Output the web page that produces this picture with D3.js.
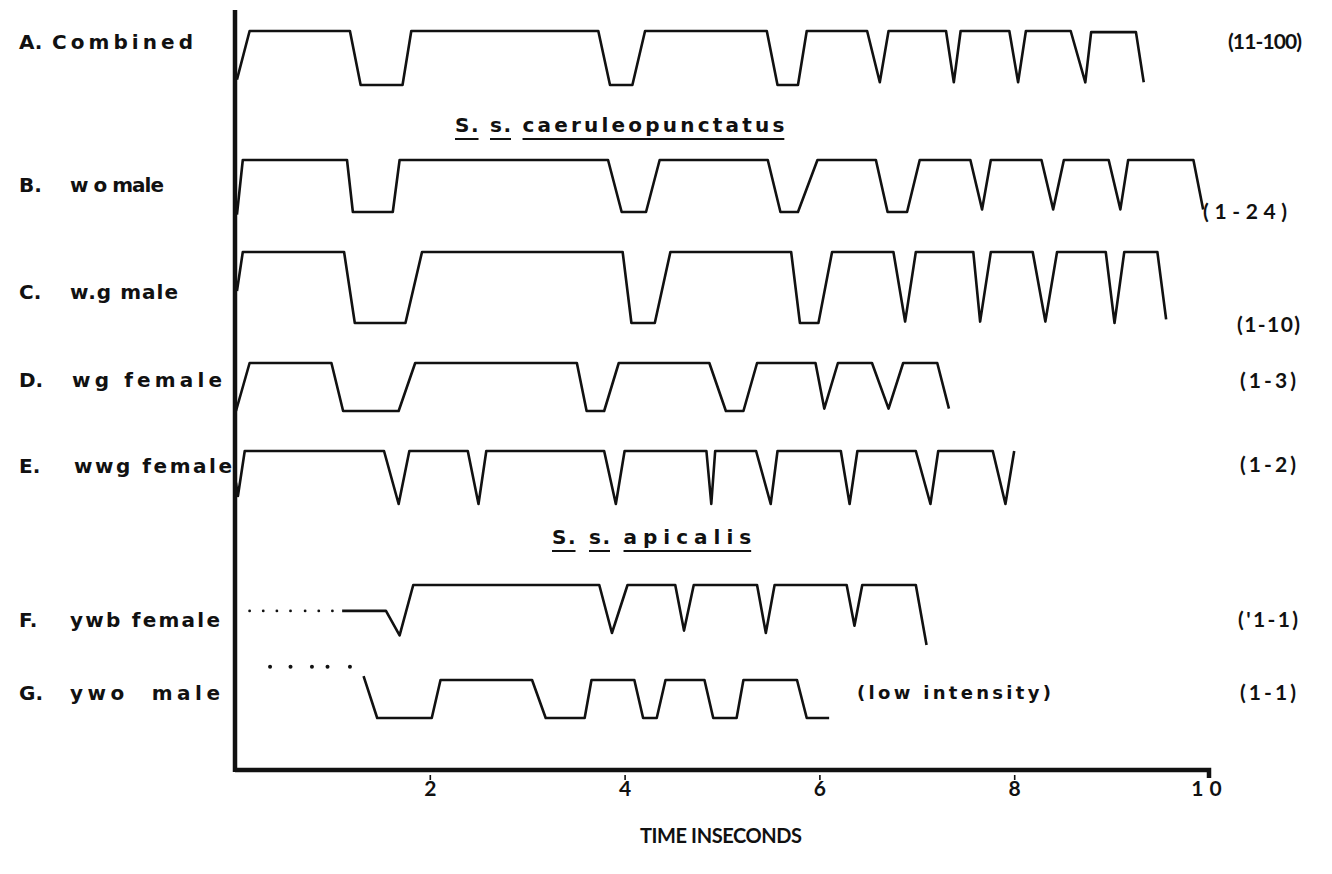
<!DOCTYPE html>
<html><head><meta charset="utf-8">
<script src="https://cdn.jsdelivr.net/npm/d3@7"></script>
<style>
body{margin:0;background:#fff;}
svg{display:block;}
text{fill:#111;font-weight:700;white-space:pre;}
.lbl{font-family:"DejaVu Sans",sans-serif;}
.num{font-family:Lato,"DejaVu Sans",sans-serif;}
</style></head><body>
<svg id="chart" width="1332" height="874"></svg>
<script>
// Call sequences: each trace is a list of [seconds, level]; level 1 = top of the sweep, 0 = bottom
const rowLetters = ["A.", "B.", "C.", "D.", "E.", "F.", "G."];
const rowNames = ["Combined", "w o male", "w.g male", "wg female", "wwg female", "ywb female", "ywo  male"];
const rowCounts = ["(11-100)", "(1-24)", "(1-10)", "(1-3)", "(1-2)", "('1-1)", "(1-1)"];

const traceA = [[0.02,0.1],[0.15,1],[1.18,1],[1.29,0],[1.72,0],[1.81,1],[3.73,1],[3.85,0],[4.08,0],[4.21,1],
  [5.46,1],[5.57,0],[5.78,0],[5.87,1],[6.49,1],[6.62,0.05],[6.71,1],[7.30,1],[7.38,0.05],[7.45,1],
  [7.95,1],[8.04,0.05],[8.12,1],[8.58,1],[8.73,0.05],[8.79,0.98],[9.25,0.98],[9.33,0.05]];
const traceB = [[0.02,-0.05],[0.08,1],[1.15,1],[1.21,0],[1.62,0],[1.69,1],[3.83,1],[3.97,0],[4.22,0],[4.36,1],
  [5.47,1],[5.60,0],[5.78,0],[5.98,1],[6.58,1],[6.70,0],[6.90,0],[7.03,1],[7.55,1],[7.67,0.05],[7.76,1],
  [8.28,1],[8.40,0.05],[8.51,1],[8.97,1],[9.09,0.05],[9.17,1],[9.84,1],[9.94,0.05]];
const traceC = [[0.02,0.45],[0.08,1],[1.12,1],[1.23,0],[1.75,0],[1.92,1],[3.98,1],[4.07,0],[4.31,0],[4.47,1],
  [5.71,1],[5.80,0],[5.99,0],[6.13,1],[6.76,1],[6.88,0.02],[6.99,1],[7.58,1],[7.65,0.02],[7.76,1],
  [8.19,1],[8.32,0.02],[8.44,1],[8.94,1],[9.03,0],[9.13,1],[9.47,1],[9.56,0.05]];
const traceD = [[0.01,0],[0.15,1],[0.99,1],[1.11,0],[1.68,0],[1.85,1],[3.51,1],[3.61,0],[3.79,0],[3.94,1],
  [4.87,1],[5.04,0],[5.22,0],[5.36,1],[5.96,1],[6.05,0.05],[6.19,1],[6.54,1],[6.71,0.05],[6.86,1],
  [7.21,1],[7.33,0.05]];
const traceE = [[0.01,0.4],[0.03,0.15],[0.10,1],[1.53,1],[1.68,0],[1.79,1],[2.39,1],[2.50,0],[2.58,1],
  [3.79,1],[3.91,0],[4.00,1],[4.84,1],[4.89,0],[4.93,1],[5.35,1],[5.50,0],[5.57,1],[6.22,1],[6.31,0],
  [6.39,1],[6.99,1],[7.14,0],[7.22,1],[7.78,1],[7.91,0],[8.00,1]];
const traceF = [[1.10,0.46],[1.55,0.46],[1.69,-0.05],[1.83,1],[3.74,1],[3.87,0],[4.03,1],[4.52,1],[4.61,0.05],
  [4.71,1],[5.36,1],[5.45,0],[5.54,1],[6.28,1],[6.36,0.15],[6.44,1],[6.99,1],[7.10,-0.25]];
const traceG = [[1.32,1.1],[1.46,0],[2.02,0],[2.11,1],[3.05,1],[3.19,0],[3.59,0],[3.66,1],[4.10,1],[4.19,0],
  [4.33,0],[4.42,1],[4.82,1],[4.91,0],[5.15,0],[5.22,1],[5.77,1],[5.87,0],[6.10,0]];
const traces = [traceA, traceB, traceC, traceD, traceE, traceF, traceG];

// dotted lead-ins before the first sound of the apicalis calls
const leadDotsF = [0.15, 0.29, 0.43, 0.57, 0.72, 0.86, 1.00];
const leadDotsG = [0.36, 0.57, 0.79, 0.95, 1.18];
const leadLevelF = 0.46, leadLevelG = 1.35;

const xTicks = [2, 4, 6, 8, 10];
const xTitle = "TIME INSECONDS";
const subspecies1 = ["S.", "s.", "caeruleopunctatus"];
const subspecies2 = ["S.", "s.", "apicalis"];
const noteG = "(low intensity)";

// ---- layout ----
const svg = d3.select("#chart");
const x = d3.scaleLinear().domain([0, 10]).range([235, 1209]);
// pixel [bottom, top] of each trace sweep
const bands = [[85,31],[212,160],[323,252],[411,363],[504,451],[633,585],[718,680]];
const labelY = [42, 185, 292, 380, 466, 620, 693];
// [left, width] of the lettered names; [left, width, y] of the sample counts
const nameBox = [[52,141],[70,94],[70,108],[72,150],[74,158],[70,150],[70,150]];
const countBox = [[1228,74,42],[1203,84,212],[1237,63,325],[1240,56,381],[1240,56,465],[1238,60,620],[1240,56,693]];
const axisY = 770;

const g = svg.append("g");

traces.forEach((tr, i) => {
  const y = d3.scaleLinear().domain([0, 1]).range(bands[i]);
  const line = d3.line().x(d => x(d[0])).y(d => y(d[1]));
  g.append("path").attr("d", line(tr)).attr("fill", "none")
    .attr("stroke", "#111").attr("stroke-width", 2.6).attr("stroke-linejoin", "round");
});

const yF = d3.scaleLinear().domain([0, 1]).range(bands[5]);
const yG = d3.scaleLinear().domain([0, 1]).range(bands[6]);
g.selectAll(".dotF").data(leadDotsF).join("circle")
  .attr("cx", d => x(d)).attr("cy", yF(leadLevelF)).attr("r", 1.4).attr("fill", "#111");
g.selectAll(".dotG").data(leadDotsG).join("circle")
  .attr("cx", d => x(d)).attr("cy", yG(leadLevelG)).attr("r", 2).attr("fill", "#111");

// row labels and sample counts
rowLetters.forEach((l, i) => {
  g.append("text").attr("class", "lbl").attr("x", 19).attr("y", labelY[i]).attr("dy", "0.35em")
    .attr("font-size", 20).text(l);
  g.append("text").attr("class", "lbl").attr("x", nameBox[i][0]).attr("y", labelY[i]).attr("dy", "0.35em")
    .attr("font-size", 20).attr("textLength", nameBox[i][1]).attr("lengthAdjust", "spacing")
    .text(rowNames[i]);
  const c = countBox[i];
  g.append("text").attr("class", "num").attr("x", c[0]).attr("y", c[2]).attr("dy", "0.35em")
    .attr("font-size", 21).attr("textLength", c[1]).attr("lengthAdjust", "spacing").text(rowCounts[i]);
});

g.append("text").attr("class", "lbl").attr("x", 857).attr("y", 693).attr("dy", "0.35em")
  .attr("font-size", 18).attr("letter-spacing", 3.3).text(noteG);

// underlined subspecies headings
function heading(words, x0, yBase, spacing, gap) {
  let cx = x0;
  words.forEach((w, k) => {
    const t = g.append("text").attr("class", "lbl").attr("x", cx).attr("y", yBase)
      .attr("font-size", 20).attr("letter-spacing", spacing[k]).text(w);
    const wdt = t.node().getComputedTextLength();
    g.append("line").attr("x1", cx).attr("x2", cx + wdt - spacing[k])
      .attr("y1", yBase + 7).attr("y2", yBase + 7).attr("stroke", "#111").attr("stroke-width", 2);
    cx += wdt + gap;
  });
}
heading(subspecies1, 455, 132, [1.5, 1.5, 3.2], 10);
heading(subspecies2, 552, 544, [1.5, 1.5, 6], 12);

// axes
g.append("line").attr("x1", x(0)).attr("x2", x(0)).attr("y1", 10).attr("y2", axisY + 2)
  .attr("stroke", "#111").attr("stroke-width", 4.5);
g.append("path")
  .attr("d", `M${x(0)},${axisY}H${x(10)}v8`)
  .attr("fill", "none").attr("stroke", "#111").attr("stroke-width", 4.5);

const ax = g.append("g").attr("transform", `translate(0,${axisY})`)
  .call(d3.axisBottom(x).tickValues(xTicks).tickSize(0).tickPadding(0).tickFormat(d3.format("d")));
ax.select(".domain").remove();
ax.selectAll(".tick line").remove();
ax.selectAll(".tick").filter(d => d < 10).append("line")
  .attr("y1", 5).attr("y2", 10).attr("stroke", "#111").attr("stroke-width", 1.6);
ax.selectAll(".tick text").attr("class", "num").attr("y", 19).attr("dy", "0.35em")
  .attr("font-size", 21).attr("font-family", null)
  .attr("fill", "#111").attr("letter-spacing", d => d === 10 ? 6 : 0);

g.append("text").attr("class", "num").attr("x", 640).attr("y", 836).attr("dy", "0.35em")
  .attr("font-size", 20).attr("textLength", 162).attr("lengthAdjust", "spacing").text(xTitle);
</script>
</body></html>
